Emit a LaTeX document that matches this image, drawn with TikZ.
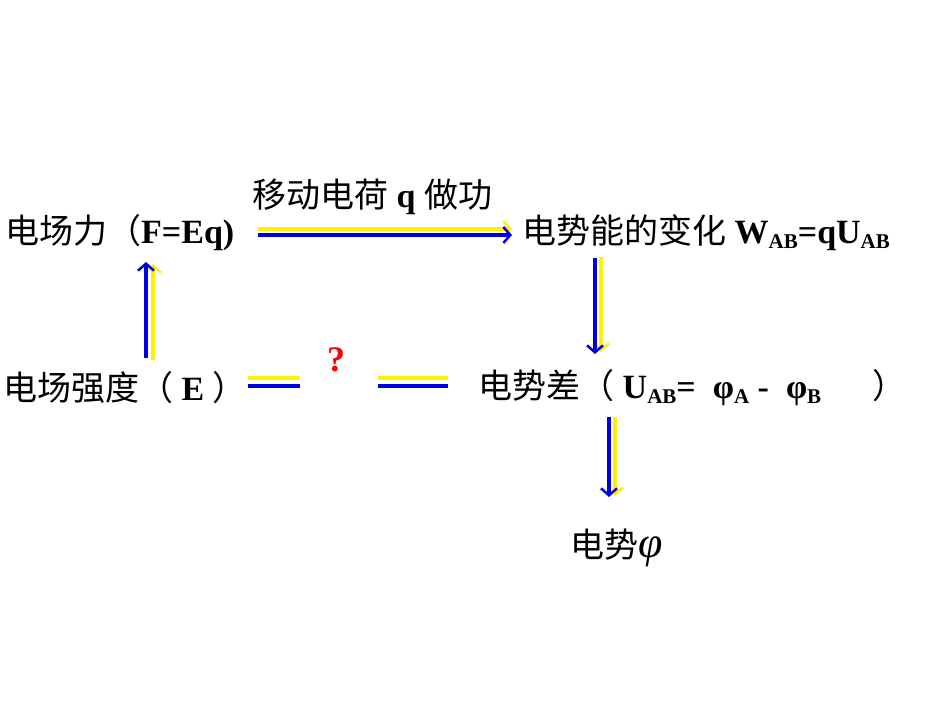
\documentclass[tikz,border=0pt]{standalone}
\usepackage{fontspec}
\setmainfont{Liberation Serif}
\newfontfamily\cjk{Noto Sans CJK SC}
\usetikzlibrary{arrows.meta}
\tikzset{
 lbl/.style={inner sep=0pt, font=\fontsize{34}{36}\selectfont\bfseries, anchor=west},
 yl/.style={draw=yellow, line width=4pt},
 bl/.style={draw=blue!90!black, line width=4pt},
 tip/.style={-{Straight Barb[length=7pt,width=16pt,line width=2.5pt]}}
}
\newcommand{\cj}[1]{{\cjk\mdseries #1}}
\newcommand{\sbs}[1]{\raisebox{-5pt}{\fontsize{21}{22}\selectfont #1}}
\begin{document}
\begin{tikzpicture}[x=1pt,y=-1pt]
\useasboundingbox (0,0) rectangle (950,713);
\node[lbl] (F) at (5,233) {\cj{电场力（}F=Eq)};
\node[lbl] (T) at (252,197) {\cj{移动电荷} q \cj{做功}};
\node[lbl] (W) at (522,233) {\cj{电势能的变化} W\sbs{AB}=qU\sbs{AB}};
\node[lbl] (E) at (3,388) {\cj{电场强度（} E \cj{）}};
\node[lbl] (U) at (478,388) {\cj{电势差（} U\sbs{AB}= \ φ\sbs{A} - \ φ\sbs{B} \quad\ \cj{）}};
\node[lbl] (P) at (570,548) {\cj{电势}\textit{\mdseries\fontsize{44}{46}\selectfont φ}};
\node[inner sep=0pt, text=red, font=\fontsize{36}{38}\selectfont\bfseries] (Q) at (336,360) {?};
% top arrow
\coordinate (a1) at (258,229); \coordinate (a2) at (512,229);
\coordinate (b1) at (258,235); \coordinate (b2) at (512,235);
\draw[yl,tip] (a1) -- (a2);
\draw[bl,tip] (b1) -- (b2);
% right down arrow
\coordinate (c1) at (601,257); \coordinate (c2) at (601,352);
\coordinate (d1) at (595,258); \coordinate (d2) at (595,354);
\draw[yl,tip] (c1) -- (c2);
\draw[bl,tip] (d1) -- (d2);
% lower down arrow
\coordinate (e1) at (615,417); \coordinate (e2) at (615,496);
\coordinate (f1) at (609,417); \coordinate (f2) at (609,497);
\draw[yl,tip] (e1) -- (e2);
\draw[bl,tip] (f1) -- (f2);
% left up arrow
\coordinate (g1) at (153,360); \coordinate (g2) at (153,264);
\coordinate (h1) at (146,358); \coordinate (h2) at (146,262);
\draw[yl,tip] (g1) -- (g2);
\draw[bl,tip] (h1) -- (h2);
% dashes
\coordinate (i1) at (248,378); \coordinate (i2) at (300,378);
\coordinate (j1) at (248,386); \coordinate (j2) at (300,386);
\coordinate (k1) at (378,378); \coordinate (k2) at (448,378);
\coordinate (l1) at (378,386); \coordinate (l2) at (448,386);
\draw[yl] (i1) -- (i2); \draw[bl] (j1) -- (j2);
\draw[yl] (k1) -- (k2); \draw[bl] (l1) -- (l2);
\end{tikzpicture}
\end{document}
